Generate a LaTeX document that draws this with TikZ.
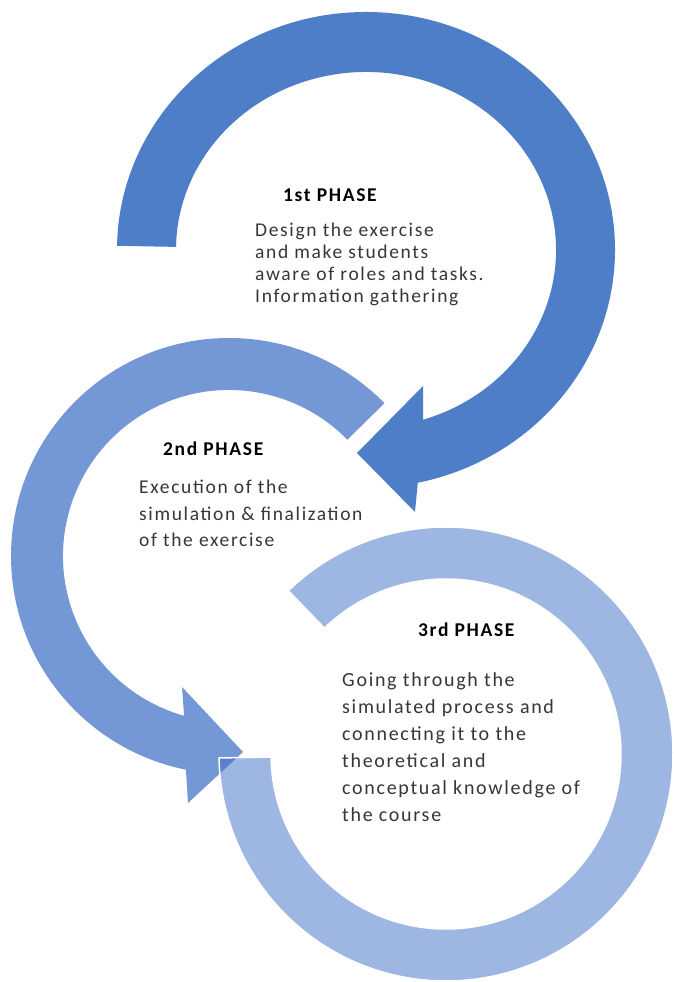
\documentclass[tikz,border=0pt]{standalone}
\usepackage{fontspec}
\setmainfont{Carlito}
\newfontfamily\phasefont[LetterSpace=8.5]{Carlito}
\usetikzlibrary{calc}

\definecolor{arcdark}{RGB}{79,126,201}
\definecolor{arcmid}{RGB}{116,151,214}
\definecolor{arclight}{RGB}{157,182,226}
\definecolor{arcoverlap}{RGB}{92,128,205}
\definecolor{bodygray}{RGB}{55,55,55}

% outlines of the three circular arrows (1 unit = 1pt, y pointing up)
\def\shapeFirst{($(366,732)+(179:249pt and 238pt)$)
  arc[start angle=179, end angle=-78, x radius=249pt, y radius=238pt]
  -- (415,470) -- (357,529) -- (423,596)
  -- ($(366,732)+(-72.5:190pt and 178pt)$)
  arc[start angle=-72.5, end angle=179, x radius=190pt, y radius=178pt]
  -- cycle}
\def\shapeSecond{($(229,426)+(44.5:218pt)$)
  arc[start angle=44.5, end angle=258.6, radius=218pt]
  -- (188,179) -- (243,230) -- (182,295)
  -- ($(229,426)+(254.3:166pt)$)
  arc[start angle=254.3, end angle=44.5, radius=166pt]
  -- cycle}
\def\shapeThird{($(446,228)+(134:227pt)$)
  arc[start angle=134, end angle=-179, radius=227pt]
  -- ($(446,228)+(-179:175pt)$)
  arc[start angle=-179, end angle=134, radius=175pt]
  -- cycle}

\begin{document}
\begin{tikzpicture}[x=1pt,y=1pt,
  phasehead/.style={anchor=base west, inner sep=0pt, text=black,
    font=\phasefont\bfseries\fontsize{19.5}{22}\selectfont},
  % multi-line texts are anchored at the baseline of their last line
  phasebody/.style={anchor=base west, align=left, inner sep=0pt, text=bodygray},
  bodyA/.style={phasebody, font=\phasefont\fontsize{19.5}{22}\selectfont},
  bodyB/.style={phasebody, font=\phasefont\fontsize{19.5}{26.5}\selectfont},
  bodyC/.style={phasebody, font=\phasefont\fontsize{20}{27}\selectfont}]

\fill[white] (0,0) rectangle (673,982);
\useasboundingbox (0,0) rectangle (673,982);

% arrows
\fill[arcdark] \shapeFirst;
\fill[arcmid] \shapeSecond;
\fill[arclight] \shapeThird;
\begin{scope}
  \clip \shapeThird;
  \fill[arcoverlap] \shapeSecond;
\end{scope}
\draw[white, line width=1.5pt, line join=miter] \shapeThird;

% texts
\node[phasehead] (h1) at (283,780) {1st PHASE};
\node[bodyA] (t1) at (255,679) {Design the exercise\\and make students\\aware of roles and tasks.\\Information gathering};

\node[phasehead] (h2) at (163,526) {2nd PHASE};
\node[bodyB] (t2) at (139,435) {Execution of the\\simulation \& finalization\\of the exercise};

\node[phasehead] (h3) at (418,345) {3rd PHASE};
\node[bodyC] (t3) at (342,160) {Going through the\\simulated process and\\connecting it to the\\theoretical and\\conceptual knowledge of\\the course};
\end{tikzpicture}
\end{document}
